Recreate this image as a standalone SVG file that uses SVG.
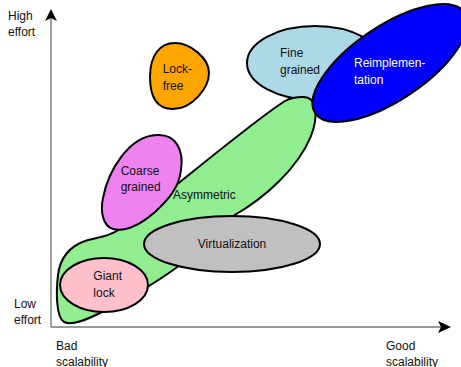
<svg xmlns="http://www.w3.org/2000/svg" width="461" height="367" viewBox="0 0 461 367">
  <style>
    .blob { stroke: #000; stroke-width: 2; }
    .lbl { font-family: "Liberation Sans", Arial, sans-serif; font-size: 12px; fill: #111; }
    .light { fill: #fff; }
    .axis { stroke: #777; stroke-width: 1.4; fill: none; }
    .head { fill: #000; }
  </style>
  <rect width="461" height="367" fill="#fff"/>

  <!-- axes -->
  <g id="axes">
    <line class="axis" x1="51" y1="327" x2="51" y2="18"/>
    <line class="axis" x1="51" y1="327" x2="442" y2="327"/>
    <polygon class="head" points="51,9 45,21 51,18 57,21"/>
    <polygon class="head" points="451,327 438,321 441,327 438,333"/>
  </g>

  <g id="axis-labels" class="lbl">
    <text x="8" y="19.5">High</text>
    <text x="8" y="36">effort</text>
    <text x="14" y="307.5">Low</text>
    <text x="14" y="323.5">effort</text>
    <text x="56" y="349.5">Bad</text>
    <text x="56" y="365.5">scalability</text>
    <text x="386" y="349.5">Good</text>
    <text x="386" y="365.5">scalability</text>
  </g>

  <g id="fine-grained">
    <ellipse class="blob" cx="315" cy="63" rx="68" ry="37" fill="#add8e6"/>
    <text class="lbl" x="280" y="56.7">Fine</text>
    <text class="lbl" x="280" y="73.5">grained</text>
  </g>

  <g id="asymmetric">
    <path class="blob" fill="#90ee90" d="M 303,97 C 318,97 318,118 311,136 C 298,168 265,198 233,216 C 212,230 195,252 180,265 C 160,280 128,299 100,313 C 86,320 72,326 64,322 C 56,317 56,292 58,275 C 60,258 70,246 85,241 C 100,237 110,236 120,229 C 170,192 250,123 285,101 C 292,97 298,97 303,97 Z"/>
    <text class="lbl" x="173" y="199.3">Asymmetric</text>
  </g>

  <g id="reimplementation">
    <ellipse class="blob" cx="390" cy="63" rx="90" ry="37" transform="rotate(-34 390 63)" fill="#0000ff"/>
    <text class="lbl light" x="354" y="66.7">Reimplemen-</text>
    <text class="lbl light" x="354" y="84">tation</text>
  </g>

  <g id="coarse-grained">
    <path class="blob" fill="#ee82ee" d="M 157,135 C 176,134 184,150 181,170 C 179,188 168,200 155,212 C 140,225 125,232 113,229 C 103,226 100,212 103,198 C 108,172 128,136 157,135 Z"/>
    <text class="lbl" x="120.7" y="175">Coarse</text>
    <text class="lbl" x="120.7" y="191">grained</text>
  </g>

  <g id="lock-free">
    <path class="blob" fill="#ffa500" d="M 175,43 C 190,43 209,58 209,73 C 209,88 192,109 173,109 C 158,109 150,98 150,77 C 150,55 160,43 175,43 Z"/>
    <text class="lbl" x="162.7" y="73.3">Lock-</text>
    <text class="lbl" x="162.7" y="90">free</text>
  </g>

  <g id="virtualization">
    <ellipse class="blob" cx="232" cy="244" rx="88" ry="28" fill="#c0c0c0"/>
    <text class="lbl" x="232" y="248" text-anchor="middle">Virtualization</text>
  </g>

  <g id="giant-lock">
    <ellipse class="blob" cx="104" cy="285" rx="44" ry="27" fill="#ffc0cb"/>
    <text class="lbl" x="93.3" y="280">Giant</text>
    <text class="lbl" x="93.3" y="296.5">lock</text>
  </g>
</svg>
